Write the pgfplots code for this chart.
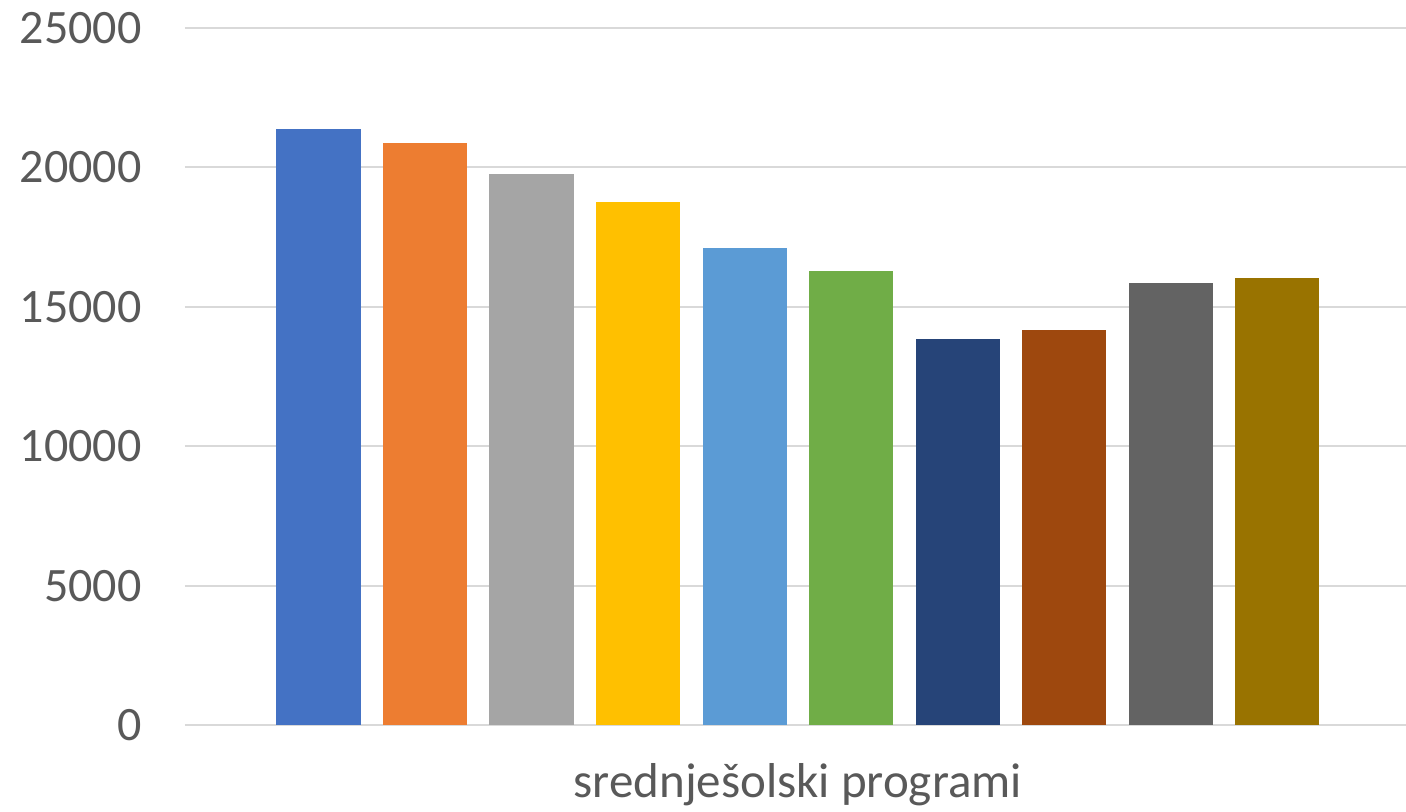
\documentclass[border=0pt]{standalone}
\usepackage{pgfplots}
\pgfplotsset{compat=1.18}
\usepackage{fontspec}
\setmainfont{Carlito}
\definecolor{c1}{HTML}{4472C4}
\definecolor{c2}{HTML}{ED7D31}
\definecolor{c3}{HTML}{A5A5A5}
\definecolor{c4}{HTML}{FFC000}
\definecolor{c5}{HTML}{5B9BD5}
\definecolor{c6}{HTML}{70AD47}
\definecolor{c7}{HTML}{264478}
\definecolor{c8}{HTML}{9E480E}
\definecolor{c9}{HTML}{636363}
\definecolor{c10}{HTML}{997300}
\definecolor{txtc}{HTML}{595959}
\definecolor{gridc}{HTML}{D9D9D9}
\begin{document}
\begin{tikzpicture}
\path[use as bounding box] (-92.5pt,-43.25pt) rectangle (610.5pt,362.75pt);
\begin{axis}[
  scale only axis,
  width=610.5pt, height=348.75pt,
  xmin=-0.2535, xmax=11.211,
  ymin=0, ymax=25000,
  ytick={0,5000,...,25000},
  xtick={5.5},
  xticklabels={srednješolski programi},
  axis line style={draw=none},
  tick style={draw=none},
  xmajorgrids=false,
  ymajorgrids=true,
  major grid style={draw=gridc, line width=1pt},
  ybar, bar width=0.789, bar shift=0pt,
  every axis plot/.append style={draw=none},
  /pgf/number format/assume math mode=true,
  scaled y ticks=false,
  yticklabel={\pgfmathprintnumber[fixed,1000 sep={}]{\tick}},
  yticklabel style={font=\fontsize{24pt}{28pt}\selectfont, text=txtc, anchor=east, inner sep=0pt, xshift=-21.5pt},
  xticklabel style={font=\fontsize{24.5pt}{28pt}\selectfont, text=txtc, anchor=base, inner sep=0pt, yshift=-31.5pt},
  clip=false,
]
\addplot[fill=c1] coordinates {(1,21380)};
\addplot[fill=c2] coordinates {(2,20870)};
\addplot[fill=c3] coordinates {(3,19760)};
\addplot[fill=c4] coordinates {(4,18750)};
\addplot[fill=c5] coordinates {(5,17100)};
\addplot[fill=c6] coordinates {(6,16280)};
\addplot[fill=c7] coordinates {(7,13850)};
\addplot[fill=c8] coordinates {(8,14180)};
\addplot[fill=c9] coordinates {(9,15870)};
\addplot[fill=c10] coordinates {(10,16040)};
\end{axis}
\end{tikzpicture}
\end{document}
